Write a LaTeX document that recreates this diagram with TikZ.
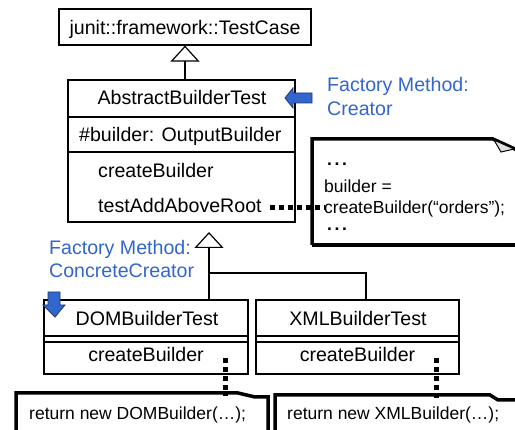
\documentclass[tikz,border=0pt]{standalone}
\usepackage{fontspec}
\setmainfont{Liberation Sans}
\usetikzlibrary{arrows.meta,calc}
\definecolor{fmblue}{RGB}{51,102,204}

\newcommand{\notedots}{\textbf{.\kern2.6pt.\kern2.6pt.}}

\begin{document}
\begin{tikzpicture}[x=1pt,y=-1pt,
  umlbox/.style={draw, line width=1.2pt, inner sep=0pt},
  big/.style={font=\fontsize{19.6}{22}\selectfont, inner sep=0pt},
  small/.style={font=\fontsize{17.5}{20}\selectfont, inner sep=0pt},
  role/.style={big, text=fmblue},
  gen/.style={line width=1.2pt, -{Triangle[open, length=16pt, width=29pt]}},
  link/.style={line width=1.2pt},
  anchorline/.style={line width=5pt, dash pattern=on 5pt off 4pt},
  notebody/.style={line width=3.5pt, line join=miter},
  pointer/.style={fill=fmblue, draw=fmblue!55!black, line width=0.8pt, line join=miter}
]
\useasboundingbox (0,0) rectangle (515,430);
\clip (0,0) rectangle (515,430);

% ---- class boxes ----
\node[umlbox, minimum width=252pt, minimum height=36pt] (tc) at (185,27) {};
\node[umlbox, minimum width=227pt, minimum height=142pt] (abs) at (181.5,151) {};
\node[umlbox, minimum width=204pt, minimum height=74pt] (dom) at (146,337) {};
\node[umlbox, minimum width=203pt, minimum height=74pt] (xml) at (357.5,337) {};

% compartments
\draw[link] (abs.west |- 0,117) -- (abs.east |- 0,117);
\draw[link] (abs.west |- 0,152) -- (abs.east |- 0,152);
\draw[link] (dom.west |- 0,336) -- (dom.east |- 0,336);
\draw[link] (dom.west |- 0,342) -- (dom.east |- 0,342);
\draw[link] (xml.west |- 0,336) -- (xml.east |- 0,336);
\draw[link] (xml.west |- 0,342) -- (xml.east |- 0,342);

% ---- class texts ----
\node[big, anchor=base] (tcName) at (185,35) {junit::framework::TestCase};
\node[big, anchor=base] (absName) at (182,105) {AbstractBuilderTest};
\node[big, anchor=base west] (absAttr) at (79,142) {\#builder: OutputBuilder};
\node[big, anchor=base west] (absOp1) at (98,178) {createBuilder};
\node[big, anchor=base west] (absOp2) at (98,213) {testAddAboveRoot};
\node[big, anchor=base] (domName) at (147,326) {DOMBuilderTest};
\node[big, anchor=base] (domOp) at (146,362) {createBuilder};
\node[big, anchor=base] (xmlName) at (358,326) {XMLBuilderTest};
\node[big, anchor=base] (xmlOp) at (357.5,362) {createBuilder};

% ---- inheritance ----
\draw[gen] (abs.north -| tc.south) -- (tc.south);
\coordinate (gtip) at (209,232);
\coordinate (fork) at (209,273);
\coordinate (xmlTop) at (366,300);
\draw[gen] (dom.north -| gtip) -- (gtip);
\draw[link] (xmlTop) |- (fork);

% ---- role labels ----
\node[role, anchor=base west] (fm1a) at (327,92) {Factory Method:};
\node[role, anchor=base west] (fm1b) at (327,116) {Creator};
\node[role, anchor=base west] (fm2a) at (49,255) {Factory Method:};
\node[role, anchor=base west] (fm2b) at (49,278) {ConcreteCreator};

\draw[pointer] (285,98) -- (293,88) -- (293,93) -- (312,93) -- (312,103)
  -- (293,103) -- (293,108) -- cycle;
\draw[pointer] (55,317) -- (43,305) -- (48,305) -- (48,292) -- (60,292)
  -- (60,305) -- (65,305) -- cycle;

% ---- notes ----
\draw[notebody] (312,245) -- (312,139) -- (493,139) -- (517,150);
\draw[notebody] (312,245) -- (520,245);
\filldraw[fill=black!12, line width=1pt, line join=miter] (494,140) -- (501,152) -- (514,149) -- cycle;

\node[small, anchor=base west] (n1) at (327,166) {\notedots};
\node[small, anchor=base west] (n2) at (324,193) {builder =};
\node[small, anchor=base west] (n3) at (324,214) {createBuilder(“orders”);};
\node[small, anchor=base west] (n4) at (327,231) {\notedots};

\draw[notebody] (16,435) -- (16,393) -- (238,393) -- (255,397) -- (268,397) -- (268,435);
\draw[notebody] (275,435) -- (275,395) -- (490,395) -- (498,400) -- (520,400);

\node[small, anchor=base west] (dn) at (29,420) {return new DOMBuilder(…);};
\node[small, anchor=base west] (xn) at (287,420) {return new XMLBuilder(…);};

% ---- note anchors ----
\draw[anchorline] ($(absOp2.base east)+(8,-5)$) -- ($(n3.base west)+(0,-6)$);
\coordinate (domTag) at (225,358);
\coordinate (domNote) at (225,396);
\coordinate (xmlTag) at (436,358);
\coordinate (xmlNote) at (436,398);
\draw[anchorline] (domTag) -- (domNote);
\draw[anchorline] (xmlTag) -- (xmlNote);
\end{tikzpicture}
\end{document}
